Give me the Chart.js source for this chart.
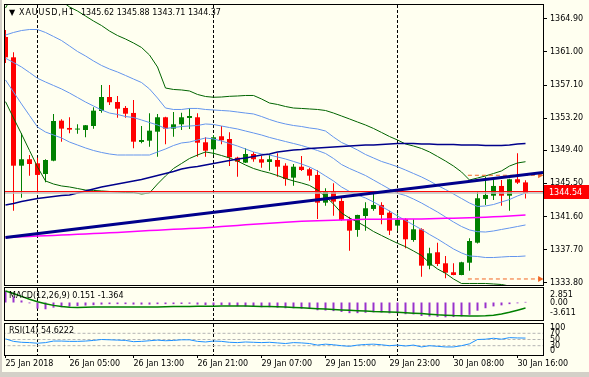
<!DOCTYPE html>
<html lang="en">
<head>
<meta charset="UTF-8">
<title>XAUUSD,H1</title>
<script src="https://cdn.jsdelivr.net/npm/chart.js"></script>
<style>
  html, body { margin: 0; padding: 0; }
  body { width: 589px; height: 377px; background: #d4d0c8; position: relative; overflow: hidden; font-family: "DejaVu Sans", sans-serif; }
  #frame { position: absolute; left: 2px; top: 0; width: 587px; height: 372px; background: #fffff0; }
  canvas { position: absolute; left: 0; }
  .lbl { position: absolute; font-size: 8px; line-height: 10px; color: #000; white-space: pre; }
</style>
</head>
<body>
<div id="frame"></div>
<canvas id="main" width="589" height="287" style="top:0"></canvas>
<canvas id="macd" width="589" height="36" style="top:286px"></canvas>
<canvas id="rsi" width="589" height="52" style="top:321px"></canvas>

<div class="lbl" style="left:9px;top:8px">▼</div>
<div class="lbl" style="left:19px;top:8px;letter-spacing:0.9px">XAUUSD,H1</div>
<div class="lbl" style="left:81px;top:8px">1345.62 1345.88 1343.71 1344.37</div>
<div class="lbl" style="left:9px;top:291px">MACD(12,26,9) 0.151 -1.364</div>
<div class="lbl" style="left:9px;top:326px">RSI(14) 54.6222</div>

<script>
// candles (H1)
const opens = [1362.77, 1360.37, 1347.59, 1348.35, 1347.87, 1346.61, 1348.18, 1352.90, 1352.04, 1351.85,
  1351.80, 1352.27, 1354.04, 1355.69, 1355.10, 1354.40, 1353.81, 1350.39, 1350.54, 1351.60,
  1353.30, 1351.96, 1352.47, 1353.22, 1353.30, 1350.35, 1349.52, 1351.06, 1350.74, 1348.54,
  1347.95, 1348.97, 1348.35, 1348.03, 1348.26, 1347.59, 1346.18, 1347.47, 1347.17, 1346.50,
  1343.23, 1344.53, 1343.43, 1341.31, 1340.01, 1341.66, 1342.49, 1342.96, 1342.05, 1340.52,
  1341.27, 1338.83, 1340.09, 1335.80, 1337.38, 1336.08, 1335.02, 1334.70, 1336.15, 1338.51,
  1343.67, 1344.05, 1345.20, 1344.05, 1345.99, 1345.62];
const highs = [1363.60, 1360.96, 1351.41, 1348.85, 1348.54, 1348.35, 1353.69, 1353.06, 1353.30, 1352.47,
  1352.40, 1354.48, 1357.11, 1357.11, 1355.81, 1354.63, 1355.34, 1352.27, 1353.77, 1353.69,
  1353.35, 1353.92, 1353.84, 1354.36, 1353.77, 1350.94, 1351.21, 1352.27, 1351.53, 1348.65,
  1349.64, 1349.21, 1348.77, 1348.94, 1349.05, 1347.87, 1347.79, 1348.74, 1347.36, 1347.08,
  1344.93, 1345.52, 1343.94, 1341.58, 1341.80, 1343.28, 1344.53, 1343.28, 1342.29, 1341.98,
  1341.40, 1341.27, 1340.20, 1337.92, 1338.51, 1336.94, 1336.08, 1336.27, 1339.03, 1344.53,
  1346.30, 1345.91, 1345.91, 1346.05, 1349.05, 1345.88];
const lows = [1359.70, 1342.29, 1343.82, 1346.41, 1344.34, 1345.63, 1348.10, 1350.42, 1351.41, 1351.37,
  1350.94, 1351.96, 1353.84, 1354.75, 1353.25, 1353.25, 1349.64, 1350.23, 1349.83, 1348.65,
  1350.12, 1351.01, 1351.80, 1351.92, 1348.65, 1348.65, 1348.85, 1350.12, 1347.56, 1346.30,
  1347.90, 1348.06, 1347.36, 1347.00, 1346.30, 1345.23, 1345.23, 1346.97, 1345.82, 1341.31,
  1342.87, 1341.70, 1341.10, 1337.57, 1339.22, 1339.93, 1342.29, 1340.68, 1339.42, 1339.93,
  1337.85, 1338.63, 1334.50, 1335.38, 1335.76, 1334.31, 1334.66, 1334.66, 1335.21, 1338.40,
  1342.96, 1343.55, 1342.87, 1342.29, 1345.43, 1343.71];
const closes = [1360.37, 1347.59, 1348.35, 1347.79, 1346.50, 1348.26, 1352.86, 1351.96, 1351.84, 1351.90,
  1352.36, 1354.08, 1355.69, 1355.07, 1354.31, 1353.72, 1350.42, 1350.62, 1351.72, 1353.30,
  1351.96, 1352.47, 1353.30, 1353.45, 1350.30, 1349.36, 1350.94, 1350.59, 1348.58, 1348.06,
  1348.97, 1348.35, 1347.95, 1348.35, 1347.47, 1346.02, 1347.47, 1347.08, 1346.41, 1343.23,
  1344.53, 1343.35, 1341.19, 1339.93, 1341.78, 1342.57, 1342.96, 1341.78, 1339.93, 1341.19,
  1338.91, 1340.09, 1335.80, 1337.26, 1336.00, 1334.97, 1334.70, 1336.20, 1338.71, 1343.75,
  1344.14, 1345.20, 1344.05, 1345.99, 1345.59, 1344.37];

// bollinger bands: green = 2 dev, light blue = 1 dev + middle
const bbUpper2 = [1366.19, 1367.84, 1368.90, 1370.08, 1369.49, 1369.25, 1367.84, 1367.01, 1366.31, 1365.83,
  1365.24, 1364.65, 1364.12, 1363.47, 1362.94, 1362.53, 1362.06, 1361.53, 1360.64, 1359.23,
  1356.75, 1356.58, 1356.52, 1356.40, 1355.99, 1355.75, 1355.66, 1355.69, 1355.77, 1355.81,
  1355.87, 1355.87, 1355.46, 1354.98, 1354.81, 1354.57, 1354.39, 1354.34, 1354.28, 1354.22,
  1354.10, 1353.80, 1353.45, 1353.10, 1352.74, 1352.39, 1351.98, 1351.51, 1351.03, 1350.62,
  1350.15, 1349.91, 1349.62, 1349.21, 1348.68, 1348.14, 1347.55, 1346.85, 1345.90, 1346.14,
  1346.38, 1346.67, 1346.97, 1347.55, 1347.91, 1348.06];
const bbUpper1 = [1363.00, 1363.30, 1363.53, 1363.65, 1363.65, 1363.30, 1362.83, 1362.35, 1361.71, 1361.06,
  1360.53, 1359.94, 1359.41, 1358.99, 1358.64, 1358.23, 1357.81, 1357.40, 1356.64, 1355.57,
  1354.39, 1354.22, 1354.22, 1354.34, 1354.34, 1354.22, 1354.16, 1354.10, 1354.04, 1353.92,
  1353.80, 1353.69, 1353.39, 1353.04, 1352.74, 1352.51, 1352.33, 1352.21, 1352.04, 1351.92,
  1351.68, 1350.97, 1350.33, 1349.91, 1349.44, 1348.91, 1348.50, 1348.09, 1347.79, 1347.47,
  1347.08, 1346.67, 1346.26, 1345.79, 1345.26, 1344.78, 1344.25, 1343.72, 1343.19, 1342.78,
  1342.84, 1343.01, 1343.31, 1343.60, 1344.02, 1344.37];
const bbMiddle = [1360.26, 1359.76, 1359.23, 1358.58, 1357.90, 1357.46, 1357.05, 1356.64, 1356.16, 1355.63,
  1355.10, 1354.63, 1354.16, 1353.80, 1353.63, 1353.39, 1353.27, 1352.98, 1352.68, 1352.39,
  1351.98, 1352.09, 1352.21, 1352.27, 1352.33, 1352.51, 1352.45, 1352.27, 1352.09, 1351.92,
  1351.68, 1351.45, 1351.21, 1350.92, 1350.68, 1350.44, 1350.21, 1349.97, 1349.68, 1349.38,
  1349.03, 1348.44, 1347.73, 1347.26, 1346.85, 1346.43, 1345.90, 1345.37, 1344.84, 1344.33,
  1344.08, 1343.66, 1343.19, 1342.66, 1342.13, 1341.54, 1340.95, 1340.42, 1340.01, 1339.81,
  1339.77, 1339.89, 1340.07, 1340.24, 1340.42, 1340.60];
const bbLower1 = [1357.70, 1356.28, 1354.87, 1353.51, 1352.15, 1351.56, 1351.21, 1350.86, 1350.38, 1350.03,
  1349.68, 1349.38, 1349.15, 1348.97, 1348.85, 1348.85, 1348.85, 1348.85, 1348.85, 1349.21,
  1349.56, 1349.97, 1350.27, 1350.38, 1350.62, 1350.86, 1350.74, 1350.50, 1350.21, 1349.91,
  1349.56, 1349.21, 1348.97, 1348.85, 1348.62, 1348.38, 1348.09, 1347.79, 1347.44, 1346.97,
  1346.38, 1345.79, 1345.08, 1344.55, 1344.13, 1343.78, 1343.31, 1342.78, 1342.25, 1341.66,
  1341.13, 1340.60, 1340.07, 1339.48, 1338.95, 1338.36, 1337.77, 1337.30, 1336.94, 1336.88,
  1336.76, 1336.76, 1336.82, 1336.88, 1336.88, 1336.94];
const bbLower2 = [1355.14, 1353.22, 1351.33, 1349.38, 1347.44, 1345.79, 1345.43, 1345.20, 1345.08, 1344.90,
  1344.72, 1344.67, 1344.61, 1344.55, 1344.49, 1344.43, 1344.43, 1344.25, 1344.37, 1345.43,
  1346.38, 1347.26, 1347.85, 1348.44, 1348.85, 1349.21, 1349.05, 1348.79, 1348.50, 1348.14,
  1347.67, 1347.26, 1346.97, 1346.73, 1346.43, 1346.08, 1345.79, 1345.55, 1345.26, 1344.72,
  1343.96, 1343.07, 1342.01, 1341.42, 1340.95, 1340.42, 1339.83, 1339.36, 1338.89, 1338.44,
  1338.04, 1337.53, 1337.00, 1336.12, 1335.41, 1334.90, 1334.23, 1333.70, 1333.70, 1333.70,
  1333.70, 1333.64, 1333.58, 1333.40, 1333.29, 1333.17];

// moving averages
const ma100 = [1342.96, 1343.13, 1343.37, 1343.55, 1343.72, 1343.84, 1343.96, 1344.08, 1344.14, 1344.37,
  1344.61, 1344.84, 1345.08, 1345.26, 1345.43, 1345.61, 1345.79, 1345.96, 1346.20, 1346.43,
  1346.67, 1346.91, 1347.20, 1347.38, 1347.50, 1347.67, 1347.85, 1348.03, 1348.20, 1348.38,
  1348.50, 1348.68, 1348.85, 1348.97, 1349.21, 1349.32, 1349.44, 1349.50, 1349.62, 1349.68,
  1349.74, 1349.80, 1349.85, 1349.91, 1349.97, 1350.03, 1350.03, 1350.09, 1350.15, 1350.21,
  1350.21, 1350.21, 1350.15, 1350.15, 1350.09, 1350.09, 1350.09, 1350.03, 1350.03, 1350.03,
  1349.97, 1349.97, 1349.97, 1350.03, 1350.15, 1350.21];
const ma200 = [1339.12, 1339.16, 1339.21, 1339.24, 1339.29, 1339.32, 1339.37, 1339.42, 1339.45, 1339.50,
  1339.54, 1339.58, 1339.63, 1339.68, 1339.72, 1339.77, 1339.83, 1339.89, 1339.94, 1339.98,
  1340.03, 1340.08, 1340.13, 1340.17, 1340.22, 1340.27, 1340.34, 1340.41, 1340.48, 1340.55,
  1340.62, 1340.69, 1340.75, 1340.81, 1340.87, 1340.93, 1340.99, 1341.03, 1341.07, 1341.10,
  1341.13, 1341.15, 1341.19, 1341.21, 1341.23, 1341.26, 1341.27, 1341.28, 1341.29, 1341.30,
  1341.30, 1341.30, 1341.30, 1341.33, 1341.35, 1341.38, 1341.40, 1341.42, 1341.45, 1341.48,
  1341.52, 1341.56, 1341.61, 1341.66, 1341.72, 1341.78];

// drawn objects
const trendFrom = [0, 1339.12];
const trendTo = [67.19, 1346.79];
const rangeHigh = 1346.46;
const rangeLow = 1334.23;
const rangeFrom = 57.8;
const rangeTo = 66.8;
const bidPrice = 1344.54;
const lastClose = 1344.37;

// MACD(12,26,9)
const macdMain = [2.85, 1.5, 0.5, -0.2, -1.5, -1.65, -1.25, -1.15, -1.0, -0.85,
  -0.75, -0.65, -0.5, -0.4, -0.4, -0.4, -0.5, -0.5, -0.5, -0.4,
  -0.4, -0.4, -0.35, -0.3, -0.5, -0.6, -0.6, -0.6, -0.75, -0.9,
  -1.0, -1.05, -1.15, -1.15, -1.25, -1.4, -1.4, -1.5, -1.6, -1.9,
  -1.95, -2.1, -2.3, -2.6, -2.6, -2.5, -2.4, -2.45, -2.65, -2.65,
  -2.85, -2.9, -3.3, -3.4, -3.5, -3.61, -3.55, -3.4, -3.0, -2.0,
  -1.4, -0.95, -0.7, -0.4, -0.2, 0.151];
const macdSignal = [2.8, 2.2, 1.5, 0.8, 0.2, -0.3, -0.7, -1.0, -1.15, -1.2,
  -1.15, -1.1, -1.1, -1.1, -1.1, -1.1, -1.1, -1.1, -1.1, -1.1,
  -1.05, -1.0, -0.95, -0.95, -0.9, -0.9, -0.9, -0.85, -0.85, -0.85,
  -0.85, -0.9, -0.95, -1.0, -1.05, -1.1, -1.2, -1.3, -1.4, -1.5,
  -1.6, -1.7, -1.8, -1.9, -2.0, -2.1, -2.2, -2.25, -2.3, -2.4,
  -2.5, -2.6, -2.7, -2.85, -3.0, -3.1, -3.2, -3.25, -3.3, -3.3,
  -3.25, -3.1, -2.8, -2.4, -1.9, -1.364];

// RSI(14)
const rsiValues = [52, 44, 41, 40, 38, 40, 45, 45, 44, 44,
  45, 47, 50, 49, 48, 47, 43, 44, 46, 48,
  46, 47, 49, 49, 44, 42, 45, 44, 41, 40,
  42, 41, 40, 41, 39, 37, 40, 39, 37, 32,
  35, 33, 30, 28, 32, 34, 35, 33, 30, 32,
  29, 32, 26, 30, 28, 26, 26, 30, 36, 50,
  51, 54, 51, 56, 55, 54.62];
const rsiLevels = [70, 50, 30];

// axes
const priceTicks = [1364.90, 1361.00, 1357.10, 1353.20, 1349.40, 1345.50, 1341.60, 1337.70, 1333.80];
const priceTickText = priceTicks.map(v => v.toFixed(2));
const macdTicks = [2.851, 0, -3.611];
const macdTickText = ['2.851', '0.00', '-3.611'];
const rsiTicks = [100, 70, 50, 30, 0];
const rsiTickText = ['100', '70', '50', '30', '0'];
const timeTicks = [0, 8, 16, 24, 32, 40, 48, 56, 64];
const timeLabels = ['25 Jan 2018', '26 Jan 05:00', '26 Jan 13:00', '26 Jan 21:00', '29 Jan 07:00',
  '29 Jan 15:00', '29 Jan 23:00', '30 Jan 08:00', '30 Jan 16:00'];
const daySeparators = [4, 26, 49];

Chart.defaults.font.family = 'DejaVu Sans';
Chart.defaults.font.size = 8;
Chart.defaults.color = '#000';
Chart.defaults.animation = false;

const xMin = -0.0625, xMax = 67.1875;
const bull = '#008000', bear = '#ff0000';
const candleColors = opens.map((o, i) => closes[i] >= o ? bull : bear);

// period separators, panel frame, right side labels and price tag
const mt4Panel = {
  id: 'mt4Panel',
  beforeDatasetsDraw(chart) {
    const { ctx, chartArea: a, scales: { x } } = chart;
    ctx.save();
    ctx.strokeStyle = '#000';
    ctx.lineWidth = 1;
    ctx.setLineDash([3, 2]);
    daySeparators.forEach(i => {
      const px = Math.floor(x.getPixelForValue(i)) + 0.5;
      ctx.beginPath();
      ctx.moveTo(px, a.top);
      ctx.lineTo(px, a.bottom);
      ctx.stroke();
    });
    ctx.restore();
  },
  afterDraw(chart, args, opts) {
    const { ctx, chartArea: a, scales: { y } } = chart;
    ctx.save();
    ctx.strokeStyle = '#000';
    ctx.lineWidth = 1;
    ctx.strokeRect(a.left - 0.5, a.top - 0.5, a.right - a.left + 1, a.bottom - a.top + 1);
    ctx.font = '8px "DejaVu Sans"';
    ctx.fillStyle = '#000';
    if (opts.values) {
      const top = Math.max(...opts.values), bottom = Math.min(...opts.values);
      opts.values.forEach((v, k) => {
        let base = 'middle';
        if (!opts.centered) base = v === top ? 'top' : (v === bottom ? 'bottom' : 'middle');
        ctx.textBaseline = base;
        ctx.fillText(opts.texts[k], a.right + 7, y.getPixelForValue(v));
      });
    }
    if (opts.tag !== undefined) {
      const ty = Math.round(y.getPixelForValue(opts.tag));
      ctx.fillStyle = '#ff0000';
      ctx.fillRect(a.right + 1, ty - 7, chart.width - a.right - 1, 14);
      ctx.fillStyle = '#ffffff';
      ctx.textBaseline = 'middle';
      ctx.fillText(opts.tag.toFixed(2), a.right + 6, ty + 0.5);
    }
    ctx.restore();
  }
};

function series(values, color, width, extra) {
  return Object.assign({
    type: 'line',
    data: values.map((v, i) => ({ x: i, y: v })),
    borderColor: color,
    borderWidth: width,
    pointRadius: 0,
    tension: 0,
    fill: false,
    clip: 0,
    order: 1
  }, extra || {});
}

function hline(value, color, width, extra) {
  return Object.assign({
    type: 'line',
    data: [{ x: -1, y: value }, { x: 68, y: value }],
    borderColor: color,
    borderWidth: width,
    pointRadius: 0,
    fill: false,
    clip: 0,
    order: 1
  }, extra || {});
}

function xAxis(show) {
  return {
    type: 'linear',
    min: xMin,
    max: xMax,
    offset: false,
    display: show,
    grid: { display: show, drawOnChartArea: false, tickLength: 3, color: '#000' },
    border: { display: false },
    afterBuildTicks: s => { s.ticks = timeTicks.map(v => ({ value: v })); },
    afterFit: s => {
      s.height = show ? 18 : 0;
      s.paddingLeft = 0;
      s.paddingRight = 0;
    },
    ticks: { autoSkip: false, maxRotation: 0, minRotation: 0, align: 'start', padding: 1,
      callback: (v, i) => timeLabels[i] }
  };
}

// right axis without chart.js labels (they are painted by mt4Panel)
function sideAxis(min, max, tickValues) {
  return {
    type: 'linear',
    position: 'right',
    min: min,
    max: max,
    grid: { display: !!tickValues, drawOnChartArea: false, tickLength: 4, color: '#000' },
    border: { display: false },
    ticks: { display: false },
    afterBuildTicks: s => { if (tickValues) s.ticks = tickValues.map(v => ({ value: v })); },
    afterFit: s => { s.width = 46; s.paddingTop = 0; s.paddingBottom = 0; }
  };
}

// grow or shrink the canvas until the plot area ends where the panel ends
function fitPanel(chart, bottom) {
  const diff = bottom - chart.chartArea.bottom;
  if (Math.abs(diff) > 0.5) {
    chart.resize(chart.width, Math.round(chart.height + diff));
  }
}

const common = {
  responsive: false,
  maintainAspectRatio: false,
  events: [],
  plugins: { legend: { display: false }, tooltip: { enabled: false } }
};

// main price panel
const mainChart = new Chart(document.getElementById('main'), {
  type: 'line',
  data: {
    datasets: [
      { type: 'line', data: [{ x: trendFrom[0], y: trendFrom[1] }, { x: trendTo[0], y: trendTo[1] }],
        borderColor: '#00008b', borderWidth: 3, pointRadius: 0, clip: 0, order: 0 },
      hline(bidPrice, '#ff0000', 1),
      hline(lastClose, '#c0c0c0', 1.5),
      { type: 'line', data: [{ x: rangeFrom, y: rangeHigh }, { x: rangeTo, y: rangeHigh }],
        borderColor: '#f26522', borderWidth: 1, borderDash: [4, 3], pointRadius: [0, 3.5],
        pointStyle: 'triangle', rotation: 90, pointBackgroundColor: '#f26522', pointBorderWidth: 0, clip: 0, order: 1 },
      { type: 'line', data: [{ x: rangeFrom, y: rangeLow }, { x: rangeTo, y: rangeLow }],
        borderColor: '#f26522', borderWidth: 1, borderDash: [4, 3], pointRadius: [0, 3.5],
        pointStyle: 'triangle', rotation: 90, pointBackgroundColor: '#f26522', pointBorderWidth: 0, clip: 0, order: 1 },
      series(ma100, '#00008b', 1.5),
      series(ma200, '#ff00ff', 1.5),
      series(bbUpper2, '#006400', 1),
      series(bbLower2, '#006400', 1),
      series(bbUpper1, '#6495ed', 1),
      series(bbMiddle, '#6495ed', 1),
      series(bbLower1, '#6495ed', 1),
      { type: 'bar', data: opens.map((o, i) => ({ x: i, y: [opens[i], closes[i]] })),
        backgroundColor: candleColors, barThickness: 5, minBarLength: 1, grouped: false,
        inflateAmount: 0, borderWidth: 0, clip: 0, order: 2 },
      { type: 'bar', data: opens.map((o, i) => ({ x: i, y: [lows[i], highs[i]] })),
        backgroundColor: candleColors, barThickness: 1, grouped: false,
        inflateAmount: 0, borderWidth: 0, clip: 0, order: 3 }
    ]
  },
  options: Object.assign({}, common, {
    layout: { padding: { left: 5, top: 5, right: 0, bottom: 2 } },
    plugins: Object.assign({}, common.plugins, {
      mt4Panel: { values: priceTicks, texts: priceTickText, centered: true, tag: bidPrice }
    }),
    scales: { x: xAxis(false), y: sideAxis(1333.52, 1366.54, priceTicks) }
  }),
  plugins: [mt4Panel]
});
fitPanel(mainChart, 285);

// MACD panel
const macdChart = new Chart(document.getElementById('macd'), {
  type: 'line',
  data: {
    datasets: [
      series(macdSignal, '#008000', 1.5, { order: 0 }),
      { type: 'bar', data: macdMain.map((v, i) => ({ x: i, y: v })), backgroundColor: '#9932cc',
        barThickness: 2, grouped: false, inflateAmount: 0, borderWidth: 0, clip: 0, order: 1 }
    ]
  },
  options: Object.assign({}, common, {
    layout: { padding: { left: 5, top: 2, right: 0, bottom: 2 } },
    plugins: Object.assign({}, common.plugins, { mt4Panel: { values: macdTicks, texts: macdTickText } }),
    scales: { x: xAxis(false), y: sideAxis(-4.27, 3.54) }
  }),
  plugins: [mt4Panel]
});
fitPanel(macdChart, 34);

// RSI panel with the time axis
const rsiChart = new Chart(document.getElementById('rsi'), {
  type: 'line',
  data: {
    datasets: rsiLevels.map(v => hline(v, '#b4b4b4', 1, { borderDash: [3, 2], order: 2 }))
      .concat([series(rsiValues, '#1e90ff', 1, { order: 0 })])
  },
  options: Object.assign({}, common, {
    layout: { padding: { left: 5, top: 3, right: 0, bottom: 0 } },
    plugins: Object.assign({}, common.plugins, { mt4Panel: { values: rsiTicks, texts: rsiTickText } }),
    scales: { x: xAxis(true), y: sideAxis(0, 100) }
  }),
  plugins: [mt4Panel]
});
fitPanel(rsiChart, 34);
</script>
</body>
</html>
